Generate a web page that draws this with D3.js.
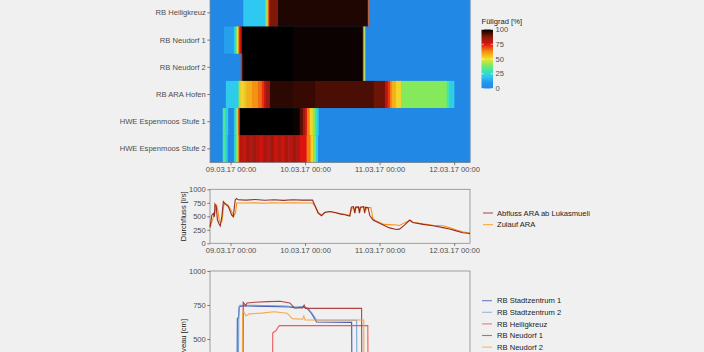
<!DOCTYPE html>
<html>
<head>
<meta charset="utf-8">
<script src="https://cdn.jsdelivr.net/npm/d3@7"></script>
<style>
body { margin: 0; background: #f0f0f0; }
svg { display: block; font-family: 'Liberation Sans', Arial, sans-serif; }
</style>
</head>
<body>
<div id="chart"></div>
<script>
// time in hours since 09.03.17 00:00
let tickHours = [0, 24, 48, 72]
let tickLabels = ['09.03.17 00:00', '10.03.17 00:00', '11.03.17 00:00', '12.03.17 00:00']
let timeRange = [-6.6, 77.1]

let heatRows = ['RB Stadtzentrum 1', 'RB Stadtzentrum 2', 'RB Heiligkreuz', 'RB Neudorf 1', 'RB Neudorf 2',
    'RB ARA Hofen', 'HWE Espenmoos Stufe 1', 'HWE Espenmoos Stufe 2']

// [start hour, Füllgrad %], each cell lasts until the next start
let fillHeiligkreuz = [[-6.6, 0], [4.1, 20], [11.1, 32], [11.5, 45], [11.8, 55], [12.1, 68], [12.4, 80], [12.7, 88],
    [15.3, 97], [44.2, 68], [44.5, 0]]
let fillNeudorf1 = [[-6.6, 0], [-2.1, 12], [1.1, 22], [1.5, 30], [1.8, 40], [2.1, 50], [2.4, 62], [2.8, 75], [3.3, 88],
    [3.7, 100], [20, 99], [42.6, 68], [42.9, 50], [43.2, 20], [43.5, 0]]
let fillNeudorf2 = [[-6.6, 0], [3.3, 70], [3.6, 88], [3.9, 100], [20, 99], [42.6, 68], [42.9, 50], [43.2, 20], [43.5, 0]]
let fillAraHofen = [[-6.6, 0], [-1.5, 21], [2.5, 35], [2.8, 45], [3.1, 52], [4.5, 55], [5.2, 58], [6.9, 62], [8.8, 66],
    [10.1, 72], [10.8, 78], [11.4, 85], [12.7, 96], [20, 95], [27.2, 93], [46.1, 90], [49.7, 80], [50.6, 72],
    [51.3, 64], [51.9, 58], [53.2, 52], [55, 40], [69.6, 30], [70.5, 22], [72.1, 0]]
let fillStufe1 = [[-6.6, 0], [-2.5, 32], [-1.6, 22], [-0.7, 0], [1.1, 22], [1.6, 32], [2.0, 50], [2.3, 62], [2.6, 76],
    [3.05, 100], [20, 99], [22.3, 92], [23.3, 84], [24.0, 76], [24.6, 64], [25.5, 52], [26.5, 40], [27.2, 28],
    [27.8, 20], [28.4, 0]]
let fillStufe2 = [[-6.6, 0], [-2.5, 32], [-1.6, 22], [-0.9, 0], [1.1, 22], [1.7, 38], [2.2, 52], [2.6, 74], [3.05, 81],
    [4, 79], [5, 83], [6.2, 80], [7, 84], [8.1, 81], [9.4, 78], [10.5, 83], [11.6, 80], [12.8, 84], [14, 79],
    [15.2, 82], [16.3, 79], [17.5, 83], [18.6, 80], [20, 84], [21.2, 81], [22.3, 76], [24.5, 64], [25.8, 52],
    [26.6, 40], [27.5, 22], [28.2, 0]]

let fillTicks = [0, 25, 50, 75, 100]
let fillStops = [0, 10, 20, 30, 40, 50, 62, 75, 87, 100]
let fillColours = ['#2188e6', '#2396ec', '#2ec8f0', '#3ee6b0', '#84ea5c', '#f2e22c', '#f59212', '#e41212', '#8c1a08', '#000000']

// Durchfluss [l/s]
let flowTicks = [0, 250, 500, 750, 1000]
let flowAbfluss = [[-6.6, 300], [-6.0, 520], [-5.5, 555], [-5.2, 490], [-5.0, 725], [-4.6, 680], [-4.2, 430], [-3.6, 350],
    [-3.3, 320], [-2.8, 490], [-2.3, 770], [-1.8, 735], [-0.7, 680], [0.4, 520], [0.9, 490], [1.5, 800], [1.9, 830],
    [2.5, 805], [5, 800], [8, 812], [11, 798], [14, 806], [17, 795], [20, 806], [23, 800], [26.4, 802], [27.1, 710],
    [28.2, 560], [29.3, 510], [30.3, 570], [32, 590], [33.6, 570], [35.2, 545], [36.8, 530], [38.4, 505], [38.9, 670],
    [39.6, 680], [40, 560], [40.3, 670], [41.2, 675], [41.5, 560], [41.8, 670], [42.8, 680], [43.2, 560], [43.5, 670],
    [44.3, 660], [44.8, 520], [45.9, 430], [48, 370], [51.2, 285], [53.4, 255], [54.4, 262], [56.1, 340], [57.7, 430],
    [58.7, 385], [62, 350], [65.2, 325], [68.4, 290], [70.5, 265], [72.7, 230], [74.8, 195], [76.4, 185], [77.1, 180]]
let flowZulauf = [[-6.6, 280], [-6.0, 400], [-5.5, 480], [-5.0, 560], [-4.5, 720], [-4.1, 620], [-3.6, 420], [-3.2, 380],
    [-2.7, 420], [-2.2, 700], [-1.8, 745], [-0.7, 700], [0.3, 600], [1.0, 500], [1.6, 560], [2.0, 745], [5, 745],
    [8, 748], [11, 742], [13, 750], [16, 745], [20, 748], [24, 745], [26.4, 745], [27.2, 690], [28.3, 570], [29.4, 525],
    [30.4, 575], [32, 590], [33.6, 570], [35.2, 550], [36.8, 535], [38.4, 515], [39.0, 640], [39.6, 665], [40.1, 580],
    [40.4, 660], [41.3, 665], [41.6, 570], [41.9, 660], [43.2, 670], [43.6, 620], [44, 660], [45.2, 660], [45.8, 470],
    [46.5, 420], [48, 390], [49.3, 350], [51.2, 345], [53.4, 340], [54.4, 330], [56.1, 380], [57.7, 420], [58.7, 390],
    [62, 360], [65.2, 335], [67, 330], [68.4, 325], [70.5, 290], [72.7, 245], [74.8, 215], [76.4, 195], [77.1, 200]]
let flowNames = ['Abfluss ARA ab Lukasmueli', 'Zulauf ARA']
let flowColours = ['#8b1a1a', '#ff8c00']

// Niveau [cm]
let levelTicks = [0, 250, 500, 750, 1000]
let levelStadt1 = [[-6.6, 180], [2.1, 190], [2.2, 650], [2.6, 660], [2.8, 738], [4, 745], [8, 742], [12, 740], [16, 738],
    [19, 735], [21, 728], [23.6, 735], [24.9, 720], [26, 690], [27.7, 625], [39.0, 622], [39.1, 190], [77.1, 150]]
let levelStadt2 = [[-6.6, 190], [2.5, 200], [2.7, 720], [3.0, 748], [6, 748], [10, 746], [14, 744], [18, 742], [21, 735],
    [23.6, 740], [25, 725], [26.2, 690], [27.7, 640], [40.6, 638], [40.7, 200], [77.1, 160]]
let levelHeiligkreuz = [[-6.6, 120], [13.5, 130], [13.6, 546], [14.6, 560], [15.0, 575], [15.7, 598], [44.2, 598],
    [44.3, 130], [77.1, 110]]
let levelNeudorf1 = [[-6.6, 150], [4.0, 160], [4.1, 769], [4.9, 745], [5.3, 765], [8, 770], [12, 775], [16, 778],
    [19.1, 765], [20.5, 730], [23.2, 728], [23.7, 750], [24.1, 725], [42.2, 725], [42.3, 160], [77.1, 140]]
let levelNeudorf2 = [[-6.6, 140], [3.8, 150], [3.9, 690], [4.3, 700], [5.0, 670], [6, 685], [10, 690], [14, 700],
    [18.2, 690], [19.9, 650], [23.2, 645], [23.6, 668], [24.0, 640], [42.9, 640], [43.0, 150], [77.1, 130]]
let levelNames = ['RB Stadtzentrum 1', 'RB Stadtzentrum 2', 'RB Heiligkreuz', 'RB Neudorf 1', 'RB Neudorf 2']
let levelColours = ['#3646a6', '#6d9fd4', '#f04848', '#a83232', '#f5a040']

let width = 704
let height = 352
let svg = d3.select('#chart').append('svg').attr('width', width).attr('height', height)

let x = d3.scaleLinear().domain(timeRange).range([210, 470])
let fill = d3.scaleLinear().domain(fillStops).range(fillColours).clamp(true)

function styleAxis(g) {
    g.select('.domain').remove()
    g.selectAll('.tick line').attr('stroke', '#333').attr('stroke-width', 0.6)
    g.selectAll('.tick text').attr('fill', '#4d4d4d').style('font-size', '7.6px')
}

function xAxisAt(yPos) {
    svg.append('g').attr('transform', 'translate(0,' + yPos + ')')
        .call(d3.axisBottom(x).tickValues(tickHours).tickFormat((d, i) => tickLabels[i]).tickSize(2.7).tickPadding(1.5))
        .call(styleAxis)
}

// ---------- heatmap ----------
let heatY = d3.scaleBand().domain(heatRows).range([-55.1, 162.5])
let heatData = [
    {row: 'RB Heiligkreuz', cells: fillHeiligkreuz},
    {row: 'RB Neudorf 1', cells: fillNeudorf1},
    {row: 'RB Neudorf 2', cells: fillNeudorf2},
    {row: 'RB ARA Hofen', cells: fillAraHofen},
    {row: 'HWE Espenmoos Stufe 1', cells: fillStufe1},
    {row: 'HWE Espenmoos Stufe 2', cells: fillStufe2}
]
svg.append('rect').attr('x', x.range()[0]).attr('y', heatY.range()[0])
    .attr('width', x.range()[1] - x.range()[0]).attr('height', heatY.range()[1] - heatY.range()[0])
    .attr('fill', fill(0))
heatData.forEach(r => {
    let cells = r.cells.map((c, i) => ({
        x0: c[0],
        x1: i + 1 < r.cells.length ? r.cells[i + 1][0] : timeRange[1],
        v: c[1]
    }))
    svg.append('g').selectAll('rect').data(cells).enter().append('rect')
        .attr('x', d => x(d.x0))
        .attr('width', d => Math.max(0, x(d.x1) - x(d.x0) + 0.4))
        .attr('y', heatY(r.row))
        .attr('height', heatY.bandwidth() + 0.3)
        .attr('fill', d => fill(d.v))
})
svg.append('rect').attr('x', x.range()[0]).attr('y', heatY.range()[0])
    .attr('width', x.range()[1] - x.range()[0]).attr('height', heatY.range()[1] - heatY.range()[0])
    .attr('fill', 'none').attr('stroke', '#8a8a8a').attr('stroke-width', 0.8)
// rows above the cropped top edge keep their band but need no label
svg.append('g').attr('transform', 'translate(' + x.range()[0] + ',0)')
    .call(d3.axisLeft(heatY).tickValues(heatData.map(r => r.row)).tickSize(2.7).tickPadding(1.5)).call(styleAxis)
xAxisAt(heatY.range()[1])

// colour bar legend
let barY = d3.scaleLinear().domain([0, 100]).range([88.5, 29.5])
let grad = svg.append('defs').append('linearGradient').attr('id', 'fillgrad')
    .attr('x1', 0).attr('y1', 1).attr('x2', 0).attr('y2', 0)
d3.range(0, 101, 2).forEach(v => {
    grad.append('stop').attr('offset', v / 100).attr('stop-color', fill(v))
})
svg.append('text').attr('x', 481.5).attr('y', 24.3).attr('fill', '#222').style('font-size', '7.6px').text('Füllgrad [%]')
svg.append('rect').attr('x', 481.5).attr('y', barY(100)).attr('width', 11.5).attr('height', barY(0) - barY(100))
    .attr('fill', 'url(#fillgrad)')
fillTicks.forEach(t => {
    svg.append('line').attr('x1', 481.5).attr('x2', 483.8).attr('y1', barY(t)).attr('y2', barY(t))
        .attr('stroke', 'white').attr('stroke-width', 0.6)
    svg.append('line').attr('x1', 490.7).attr('x2', 493).attr('y1', barY(t)).attr('y2', barY(t))
        .attr('stroke', 'white').attr('stroke-width', 0.6)
    svg.append('text').attr('x', 495.5).attr('y', barY(t)).attr('dy', '0.35em')
        .attr('fill', '#4d4d4d').style('font-size', '7.6px').text(t)
})

// ---------- Durchfluss ----------
let flowY = d3.scaleLinear().domain([0, 1000]).range([243.3, 189.3])
let line = d3.line().x(d => x(d[0]))

svg.append('rect').attr('x', x.range()[0]).attr('y', flowY.range()[1])
    .attr('width', x.range()[1] - x.range()[0]).attr('height', flowY.range()[0] - flowY.range()[1])
    .attr('fill', 'none').attr('stroke', '#8a8a8a').attr('stroke-width', 0.8)
;[flowZulauf, flowAbfluss].forEach((s, i) => {
    svg.append('path').datum(s).attr('fill', 'none')
        .attr('stroke', flowColours[1 - i]).attr('stroke-width', 1.1).attr('stroke-opacity', 0.9)
        .attr('d', line.y(d => flowY(d[1])))
})
svg.append('g').attr('transform', 'translate(' + x.range()[0] + ',0)')
    .call(d3.axisLeft(flowY).tickValues(flowTicks).tickFormat(d3.format('d')).tickSize(2.7).tickPadding(1.5))
    .call(styleAxis)
xAxisAt(flowY.range()[0])
svg.append('text').attr('transform', 'translate(185.5,' + (flowY(500)) + ') rotate(-90)')
    .attr('text-anchor', 'middle').attr('fill', '#222').style('font-size', '7.6px').text('Durchfluss [l/s]')
flowNames.forEach((n, i) => {
    let ly = 213 + i * 11.6
    svg.append('line').attr('x1', 483).attr('x2', 493).attr('y1', ly).attr('y2', ly)
        .attr('stroke', flowColours[i]).attr('stroke-width', 1.1).attr('stroke-opacity', 0.7)
    svg.append('text').attr('x', 497).attr('y', ly).attr('dy', '0.35em')
        .attr('fill', '#222').style('font-size', '7.6px').text(n)
})

// ---------- Niveau ----------
let levelY = d3.scaleLinear().domain([0, 1000]).range([407, 271])
let levelSeries = [levelStadt1, levelStadt2, levelHeiligkreuz, levelNeudorf1, levelNeudorf2]

svg.append('rect').attr('x', x.range()[0]).attr('y', levelY.range()[1])
    .attr('width', x.range()[1] - x.range()[0]).attr('height', levelY.range()[0] - levelY.range()[1])
    .attr('fill', 'none').attr('stroke', '#8a8a8a').attr('stroke-width', 0.8)
levelSeries.forEach((s, i) => {
    svg.append('path').datum(s).attr('fill', 'none')
        .attr('stroke', levelColours[i]).attr('stroke-width', 1.1).attr('stroke-opacity', 0.9)
        .attr('d', line.y(d => levelY(d[1])))
})
svg.append('g').attr('transform', 'translate(' + x.range()[0] + ',0)')
    .call(d3.axisLeft(levelY).tickValues(levelTicks).tickFormat(d3.format('d')).tickSize(2.7).tickPadding(1.5))
    .call(styleAxis)
svg.append('text').attr('transform', 'translate(185.5,' + (levelY(500)) + ') rotate(-90)')
    .attr('text-anchor', 'middle').attr('fill', '#222').style('font-size', '7.6px').text('Niveau [cm]')
levelNames.forEach((n, i) => {
    let ly = 300.7 + i * 11.6
    svg.append('line').attr('x1', 482).attr('x2', 492).attr('y1', ly).attr('y2', ly)
        .attr('stroke', levelColours[i]).attr('stroke-width', 1.1).attr('stroke-opacity', 0.7)
    svg.append('text').attr('x', 497).attr('y', ly).attr('dy', '0.35em')
        .attr('fill', '#222').style('font-size', '7.6px').text(n)
})
</script>
</body>
</html>
